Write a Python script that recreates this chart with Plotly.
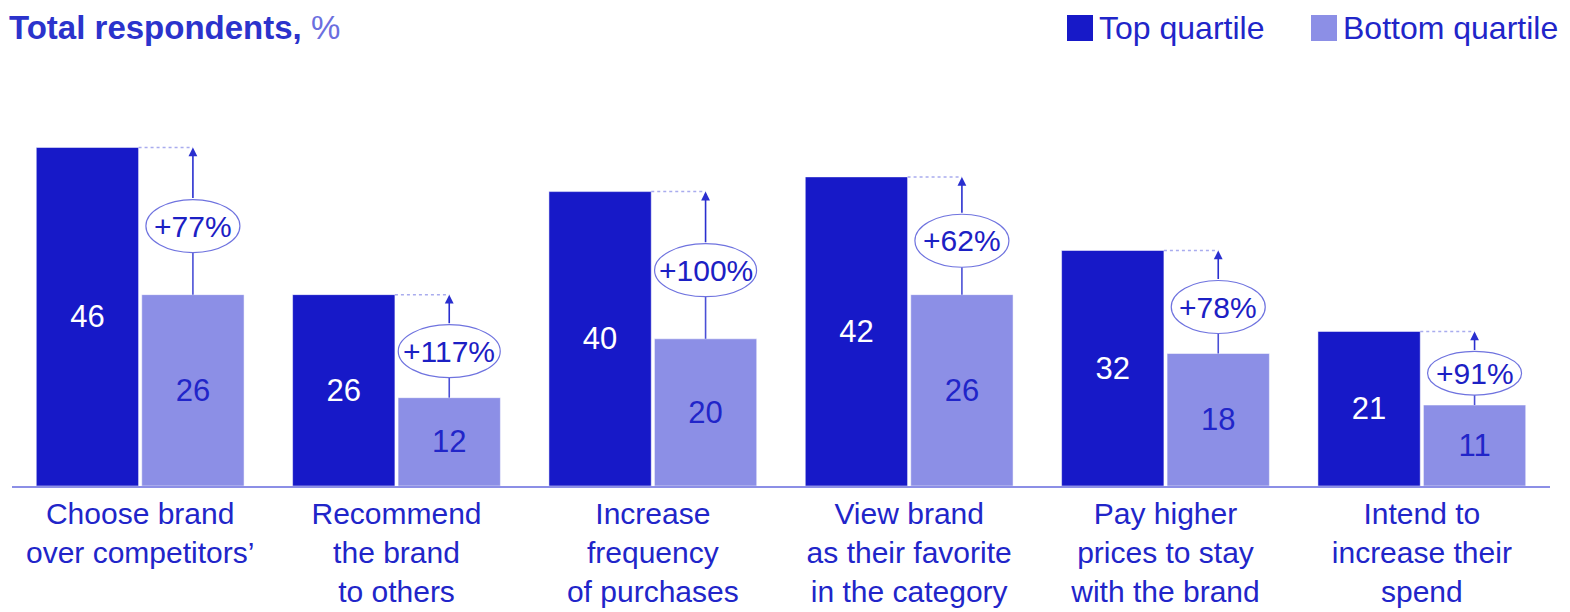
import plotly.graph_objects as go

categories = [
    "Choose brand<br>over competitors’",
    "Recommend<br>the brand<br>to others",
    "Increase<br>frequency<br>of purchases",
    "View brand<br>as their favorite<br>in the category",
    "Pay higher<br>prices to stay<br>with the brand",
    "Intend to<br>increase their<br>spend",
]
top_quartile = [46, 26, 40, 42, 32, 21]
bottom_quartile = [26, 12, 20, 26, 18, 11]
uplift_labels = ["+77%", "+117%", "+100%", "+62%", "+78%", "+91%"]

DARK = "#1719C8"
LIGHT = "#8C8FE6"
TEXT = "#2125C9"
FONT = "Liberation Sans, Arial, sans-serif"

# the page body adds an 8px margin, so the figure is drawn 8px in from the corner
OFF = 8
W, H = 1570 - OFF, 612 - OFF
M_L, M_R, M_T, M_B = 12 - OFF, 20, 118 - OFF, 126
Y_MAX = 50
BARGAP, BARGROUPGAP = 0.177, 0.03
ppu = (H - M_T - M_B) / Y_MAX  # pixels per data unit

fig = go.Figure()
fig.add_trace(go.Bar(
    name="Top quartile", x=categories, y=top_quartile,
    marker=dict(color=DARK, line=dict(color="rgba(255,255,255,0.5)", width=1)),
    text=[str(v) for v in top_quartile], textposition="inside",
    insidetextanchor="middle", textangle=0,
    textfont=dict(color="white", size=31, family=FONT),
    showlegend=False,
))
fig.add_trace(go.Bar(
    name="Bottom quartile", x=categories, y=bottom_quartile,
    marker=dict(color=LIGHT, line=dict(color="rgba(255,255,255,0.5)", width=1)),
    text=[str(v) for v in bottom_quartile], textposition="inside",
    insidetextanchor="middle", textangle=0,
    textfont=dict(color=TEXT, size=31, family=FONT),
    showlegend=False,
))

slot = (1 - BARGAP) / 2
shapes_lines, shapes_ell, annos = [], [], []
for i, (t, b, lab) in enumerate(zip(top_quartile, bottom_quartile, uplift_labels)):
    bx = i + slot / 2
    top_right = i - slot / 2 + slot * (1 - BARGROUPGAP) / 2
    gap_px = (t - b) * ppu
    eh = min(53, gap_px - 30)
    ew = 62 + 8 * len(lab)
    ymid = (t + b) / 2 - 5 / ppu
    shapes_lines.append(dict(type="line", xref="x", yref="y", x0=top_right, x1=bx,
                             y0=t, y1=t, layer="above",
                             line=dict(color="#A9ACEE", width=1.5, dash="dot")))
    shapes_lines.append(dict(type="line", xref="x", yref="y", x0=bx, x1=bx,
                             y0=b, y1=ymid, layer="above",
                             line=dict(color="#4A4FD6", width=1.6)))
    shapes_ell.append(dict(type="circle", xref="x", yref="y", xsizemode="pixel",
                           ysizemode="pixel", xanchor=bx, yanchor=ymid,
                           x0=-ew / 2, x1=ew / 2, y0=-eh / 2, y1=eh / 2,
                           layer="above", fillcolor="white",
                           line=dict(color="#6F73DF", width=1.2)))
    annos.append(dict(x=bx, y=t, ax=bx, ay=ymid + (eh / 2) / ppu, xref="x", yref="y",
                      axref="x", ayref="y", text="", showarrow=True,
                      arrowhead=2, arrowsize=1.1, arrowwidth=1.6,
                      arrowcolor="#2A2FCF"))
    annos.append(dict(x=bx, y=ymid, xref="x", yref="y", text=lab, showarrow=False,
                      font=dict(color="#1C20C4", size=30, family=FONT)))


def px_x(p):
    """page pixel x -> paper coordinate"""
    return (p - OFF - M_L) / (W - M_L - M_R)


def px_y(p):
    """page pixel y -> paper coordinate"""
    return (H - M_B - (p - OFF)) / (H - M_T - M_B)


legend_items = [("Top quartile", DARK, 1067), ("Bottom quartile", LIGHT, 1311)]
for name, col, xl in legend_items:
    shapes_ell.append(dict(type="rect", xref="paper", yref="paper",
                           x0=px_x(xl), x1=px_x(xl + 26), y0=px_y(41), y1=px_y(15),
                           fillcolor=col, line=dict(width=0)))
    annos.append(dict(x=px_x(xl + 31), y=px_y(28), xref="paper", yref="paper",
                      xanchor="left", yanchor="middle", text=name, showarrow=False,
                      borderpad=0,
                      font=dict(color=TEXT, size=32, family=FONT)))

annos.append(dict(x=px_x(OFF), y=px_y(28), xref="paper", yref="paper",
                  xanchor="left", yanchor="middle", showarrow=False, borderpad=0,
                  text="<b>Total respondents,</b> <span style='color:#6B6FDF'>%</span>",
                  font=dict(size=33, color="#2B33CC", family=FONT)))

fig.update_layout(
    width=W, height=H,
    margin=dict(l=M_L, r=M_R, t=M_T, b=M_B, autoexpand=False),
    paper_bgcolor="white", plot_bgcolor="white",
    barmode="group", bargap=BARGAP, bargroupgap=BARGROUPGAP,
    xaxis=dict(showline=True, linecolor="#8C8FE6", linewidth=2, ticks="",
               showgrid=False, zeroline=False, automargin=False,
               tickfont=dict(size=30, color=TEXT, family=FONT)),
    yaxis=dict(visible=False, range=[0, Y_MAX], automargin=False),
    shapes=shapes_lines + shapes_ell,
    annotations=annos,
)

fig.write_html("out.html")
